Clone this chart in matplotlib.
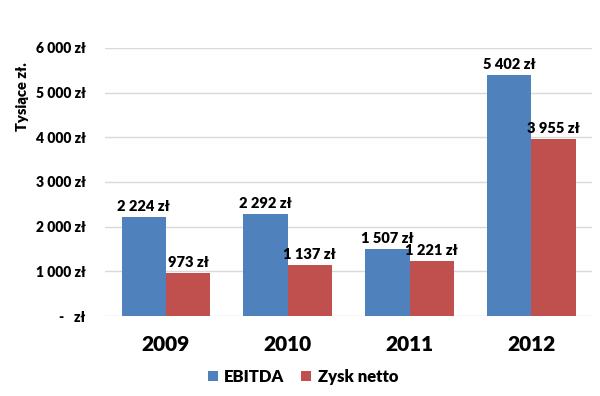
import matplotlib.pyplot as plt
import numpy as np

# dane (tysiące zł)
years = ['2009', '2010', '2011', '2012']
ebitda = [2224, 2292, 1507, 5402]
zysk_netto = [973, 1137, 1221, 3955]
y_ticks = [0, 1000, 2000, 3000, 4000, 5000, 6000]

plt.rcParams['font.family'] = ['Lato', 'DejaVu Sans']
W = 'heavy'


def fmt_zl(v):
    if v == 0:
        return '-   zł'
    return '{:,}'.format(int(v)).replace(',', ' ') + ' zł'


fig = plt.figure(figsize=(6, 3.96), dpi=100)
ax = fig.add_axes([0.175, 0.202, 0.812, 0.677])

x = np.arange(len(years))
w = 0.363
b1 = ax.bar(x - w / 2, ebitda, w, color='#4F81BD', label='EBITDA', zorder=3)
b2 = ax.bar(x + w / 2, zysk_netto, w, color='#C0504D', label='Zysk netto', zorder=3)

for bars, vals in ((b1, ebitda), (b2, zysk_netto)):
    for rect, v in zip(bars, vals):
        ax.text(rect.get_x() + rect.get_width() / 2, v + 90, fmt_zl(v),
                ha='center', va='bottom', fontsize=10.5, fontweight=W)

ax.set_xlim(-0.5, len(years) - 0.5)
ax.set_ylim(0, 6000)
ax.set_yticks(y_ticks)
ax.set_yticklabels([fmt_zl(v) for v in y_ticks], fontsize=10, fontweight=W)
ax.set_xticks(x)
ax.set_xticklabels(years, fontsize=15, fontweight=W)
ax.tick_params(axis='both', length=0)
ax.tick_params(axis='y', pad=14)
ax.tick_params(axis='x', pad=14)
ax.grid(axis='y', color='#D9D9D9', linewidth=1, zorder=0)
for s in ax.spines.values():
    s.set_visible(False)

fig.text(0.038, 0.755, 'Tysiące zł.', rotation=90, ha='center', va='center',
         fontsize=10.5, fontweight=W)

fig.legend(handles=[b1, b2], loc='center', bbox_to_anchor=(0.505, 0.048), ncol=2,
           frameon=False, handlelength=0.6, handleheight=0.6,
           handletextpad=0.4, columnspacing=1.0, prop={'weight': W, 'size': 12})

fig.savefig('out.png', dpi=100)
